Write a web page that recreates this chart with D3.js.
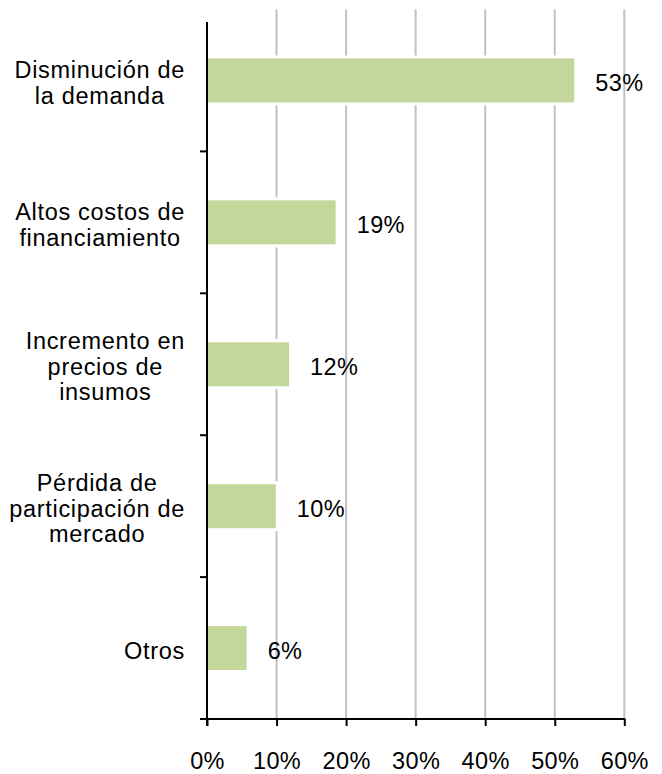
<!DOCTYPE html>
<html>
<head>
<meta charset="utf-8">
<script src="https://cdn.jsdelivr.net/npm/d3@7"></script>
<style>
  html, body { margin: 0; padding: 0; background: #fff; }
  svg { display: block; }
  text { font-family: "Liberation Sans", Arial, sans-serif; fill: #000; }
</style>
</head>
<body>
<svg id="chart" width="662" height="774"></svg>
<script>
const categories = [
  ["Disminución de", "la demanda"],
  ["Altos costos de", "financiamiento"],
  ["Incremento en", "precios de", "insumos"],
  ["Pérdida de", "participación de", "mercado"],
  ["Otros"]
];
const values = [52.8, 18.5, 11.8, 9.9, 5.7];
const valueLabels = ["53%", "19%", "12%", "10%", "6%"];
const xTicks = [0, 10, 20, 30, 40, 50, 60];
const xTickLabels = ["0%", "10%", "20%", "30%", "40%", "50%", "60%"];

(function () {
const svg = d3.select("#chart");
const plotLeft = 207, plotRight = 624.3, plotTop = 9.5, plotBottom = 719;
const fontSize = 23.5;

const x = d3.scaleLinear().domain([0, 60]).range([plotLeft, plotRight]);
const y = d3.scaleBand().domain(d3.range(categories.length)).range([plotTop, plotBottom]).paddingInner(0.69).paddingOuter(0.345);
const step = y.step();

// gridlines
svg.append("g").selectAll("line").data(xTicks.slice(1)).join("line")
  .attr("x1", d => x(d)).attr("x2", d => x(d))
  .attr("y1", plotTop).attr("y2", plotBottom)
  .attr("stroke", "#c0c0c0").attr("stroke-width", 2);

// bars (white halo + fill)
const bars = svg.append("g");
bars.selectAll("rect.halo").data(values).join("rect").attr("class", "halo")
  .attr("x", x(0)).attr("y", (d, i) => y(i) - 3)
  .attr("width", d => x(d) - x(0) + 3).attr("height", y.bandwidth() + 6)
  .attr("fill", "#fff");
bars.selectAll("rect.bar").data(values).join("rect").attr("class", "bar")
  .attr("x", x(0)).attr("y", (d, i) => y(i))
  .attr("width", d => x(d) - x(0)).attr("height", y.bandwidth())
  .attr("fill", "#c4d79b");

// value labels
svg.append("g").selectAll("text").data(values).join("text")
  .attr("x", d => x(d) + 21)
  .attr("y", (d, i) => y(i) + y.bandwidth() / 2 + 10.5)
  .attr("font-size", fontSize).attr("letter-spacing", "0.4px")
  .text((d, i) => valueLabels[i]);

// x axis
const xAxis = d3.axisBottom(x).tickValues(xTicks).tickFormat((d, i) => xTickLabels[i]).tickSize(7).tickSizeOuter(0);
const gx = svg.append("g").attr("transform", `translate(0,${plotBottom})`).call(xAxis);
gx.select(".domain").remove();
gx.selectAll(".tick line").attr("stroke", "#000").attr("stroke-width", 2);
gx.selectAll(".tick text").attr("font-size", fontSize).attr("font-family", "Liberation Sans, Arial, sans-serif")
  .attr("letter-spacing", "0.4px")
  .attr("fill", "#000").attr("y", 49.5).attr("dy", 0);
svg.append("line").attr("x1", plotLeft - 7).attr("x2", plotRight + 1).attr("y1", plotBottom).attr("y2", plotBottom)
  .attr("stroke", "#000").attr("stroke-width", 2);

// y axis with ticks at category boundaries
const boundaries = d3.range(1, categories.length + 1).map(i => plotTop + i * step);
svg.append("line").attr("x1", plotLeft).attr("x2", plotLeft).attr("y1", 22).attr("y2", plotBottom + 7)
  .attr("stroke", "#000").attr("stroke-width", 2);
svg.append("g").selectAll("line").data(boundaries).join("line")
  .attr("x1", plotLeft - 7).attr("x2", plotLeft).attr("y1", d => d).attr("y2", d => d)
  .attr("stroke", "#000").attr("stroke-width", 2);

// category labels: block right-aligned, lines centered within block
const lineH = 25.7, rightEdge = 185;
const cat = svg.append("g");
categories.forEach((lines, i) => {
  const g = cat.append("g");
  const c = y(i) + y.bandwidth() / 2;
  const texts = lines.map((s, j) => g.append("text")
    .attr("font-size", fontSize).attr("letter-spacing", "0.7px")
    .attr("text-anchor", "middle")
    .attr("y", c + 10.5 - (lines.length - 1) * lineH / 2 + j * lineH)
    .text(s));
  const maxW = d3.max(texts, t => t.node().getComputedTextLength());
  texts.forEach(t => t.attr("x", rightEdge - maxW / 2));
});
})();
</script>
</body>
</html>
